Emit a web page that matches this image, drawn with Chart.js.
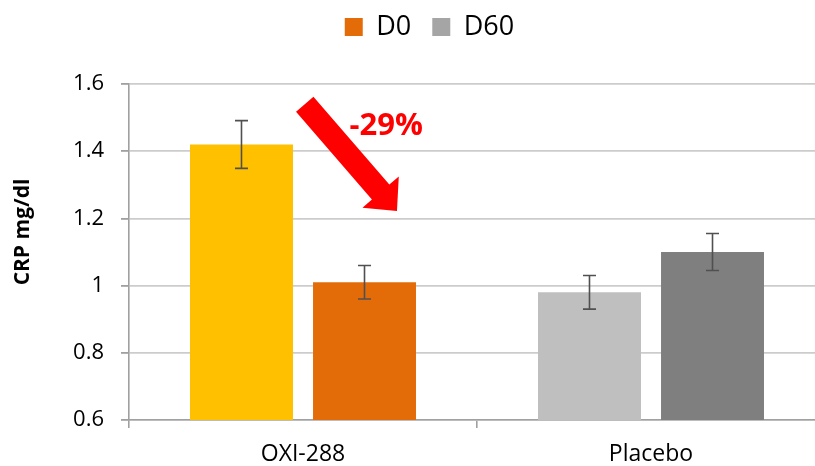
<!DOCTYPE html>
<html>
<head>
<meta charset="utf-8">
<script src="https://cdn.jsdelivr.net/npm/chart.js@4.4.1/dist/chart.umd.min.js"></script>
<style>
  html, body { margin: 0; padding: 0; background: #fff; }
  #wrap { width: 815px; height: 466px; overflow: hidden; position: relative; }
  #inner { position: absolute; left: 0; top: 0; width: 859px; height: 466px; }
</style>
</head>
<body>
<div id="wrap"><div id="inner"><canvas id="crp"></canvas></div></div>
<script>
// --- data ---
const categories = ['OXI-288', 'Placebo'];
const d0Values = [1.42, 0.98];
const d0Errors = [0.071, 0.05];
const d60Values = [1.01, 1.10];
const d60Errors = [0.05, 0.055];
const d0Colors = ['#FFC000', '#BFBFBF'];
const d60Colors = ['#E36C09', '#7F7F7F'];
const legendLabels = ['D0', 'D60'];
const legendColors = ['#E36C09', '#A5A5A5'];
const yTickValues = [0.6, 0.8, 1, 1.2, 1.4, 1.6];
const yTickLabels = ['0.6', '0.8', '1', '1.2', '1.4', '1.6'];
const yTitle = 'CRP mg/dl';

// annotation: arrow from/to in (category offset, value), and its label
const arrowFrom = [0.005, 1.54];
const arrowTo = [0.27, 1.222];
const arrowLabel = '-29%';
const arrowLabelAt = [0.239, 1.448];

const AXIS = '#A0A0A0';
const GRID = '#CCCCCC';

Chart.defaults.font.family = "'Open Sans', sans-serif";
Chart.defaults.color = '#000';

function catPx(x, idx) {
  const p0 = x.getPixelForValue(0), p1 = x.getPixelForValue(1);
  return p0 + idx * (p1 - p0);
}

const errorBars = {
  id: 'errorBars',
  afterDatasetsDraw(chart) {
    const { ctx, scales: { y } } = chart;
    ctx.save();
    ctx.strokeStyle = '#505050';
    ctx.lineWidth = 1.6;
    chart.data.datasets.forEach((ds, di) => {
      chart.getDatasetMeta(di).data.forEach((bar, i) => {
        const v = ds.data[i], e = ds.errors[i];
        const t = y.getPixelForValue(v + e), b = y.getPixelForValue(v - e);
        ctx.beginPath();
        ctx.moveTo(bar.x, t); ctx.lineTo(bar.x, b);
        ctx.moveTo(bar.x - 6.5, t); ctx.lineTo(bar.x + 6.5, t);
        ctx.moveTo(bar.x - 6.5, b); ctx.lineTo(bar.x + 6.5, b);
        ctx.stroke();
      });
    });
    ctx.restore();
  }
};

const arrowNote = {
  id: 'arrowNote',
  afterDatasetsDraw(chart) {
    const { ctx, scales: { x, y } } = chart;
    const sx = catPx(x, arrowFrom[0]), sy = y.getPixelForValue(arrowFrom[1]);
    const tx = catPx(x, arrowTo[0]), ty = y.getPixelForValue(arrowTo[1]);
    const len = Math.hypot(tx - sx, ty - sy);
    const ux = (tx - sx) / len, uy = (ty - sy) / len;
    const nx = -uy, ny = ux;
    const shaft = 11.5, head = 24, headLen = 25;
    const bx = tx - ux * headLen, by = ty - uy * headLen;
    ctx.save();
    ctx.fillStyle = '#FF0000';
    ctx.beginPath();
    ctx.moveTo(sx + nx * shaft, sy + ny * shaft);
    ctx.lineTo(bx + nx * shaft, by + ny * shaft);
    ctx.lineTo(bx + nx * head, by + ny * head);
    ctx.lineTo(tx, ty);
    ctx.lineTo(bx - nx * head, by - ny * head);
    ctx.lineTo(bx - nx * shaft, by - ny * shaft);
    ctx.lineTo(sx - nx * shaft, sy - ny * shaft);
    ctx.closePath();
    ctx.fill();
    ctx.font = "bold 31px 'Open Sans', sans-serif";
    ctx.textAlign = 'center';
    ctx.textBaseline = 'alphabetic';
    ctx.fillText(arrowLabel, catPx(x, arrowLabelAt[0]), y.getPixelForValue(arrowLabelAt[1]));
    ctx.restore();
  }
};

const yAxisTitle = {
  id: 'yAxisTitle',
  afterDraw(chart) {
    const { ctx, chartArea } = chart;
    ctx.save();
    ctx.translate(23, (chartArea.top + chartArea.bottom) / 2 - 20);
    ctx.rotate(-Math.PI / 2);
    ctx.font = "bold 21px 'Open Sans', sans-serif";
    ctx.fillStyle = '#000';
    ctx.textAlign = 'center';
    ctx.textBaseline = 'middle';
    ctx.fillText(yTitle, 0, 0);
    ctx.restore();
  }
};

new Chart(document.getElementById('crp'), {
  type: 'bar',
  data: {
    labels: categories,
    datasets: [
      { label: legendLabels[0], data: d0Values, errors: d0Errors, backgroundColor: d0Colors, xAxisID: 'x' },
      { label: legendLabels[1], data: d60Values, errors: d60Errors, backgroundColor: d60Colors, xAxisID: 'x' },
    ],
  },
  options: {
    responsive: true,
    maintainAspectRatio: false,
    animation: false,
    categoryPercentage: 0.707,
    barPercentage: 0.837,
    layout: { padding: { top: -7.5, left: 34, right: 34, bottom: 0 } },
    plugins: {
      legend: {
        position: 'top',
        labels: {
          font: { size: 27 },
          color: '#000',
          boxWidth: 18,
          boxHeight: 18,
          padding: 21,
          generateLabels: () => legendLabels.map((t, i) => ({
            text: t, fillStyle: legendColors[i], strokeStyle: legendColors[i], lineWidth: 0, datasetIndex: i, hidden: false,
          })),
        },
      },
      tooltip: { enabled: false },
    },
    scales: {
      x: {
        position: 'bottom',
        grid: { display: true, drawOnChartArea: false, drawTicks: true, tickLength: 8, tickColor: AXIS, lineWidth: 1.6, offset: true },
        border: { color: AXIS, width: 1.6 },
        ticks: { font: { size: 23 }, color: '#000', padding: 13 },
        afterFit: (s) => { s.height = 46; },
      },
      xTop: {
        type: 'category',
        position: 'top',
        display: true,
        grid: { display: false },
        border: { display: false },
        ticks: { display: false },
        afterFit: (s) => { s.height = 33.5; },
      },
      y: {
        min: 0.6,
        max: 1.6,
        afterBuildTicks: (s) => { s.ticks = yTickValues.map(v => ({ value: v })); },
        grid: { color: GRID, lineWidth: 1.8, tickLength: 8, tickColor: AXIS },
        border: { color: AXIS, width: 1.6 },
        ticks: { font: { size: 22 }, color: '#000', padding: 17, callback: (v, i) => yTickLabels[i] },
        afterFit: (s) => { s.width = 95; },
      },
    },
  },
  plugins: [errorBars, arrowNote, yAxisTitle],
});
</script>
</body>
</html>
